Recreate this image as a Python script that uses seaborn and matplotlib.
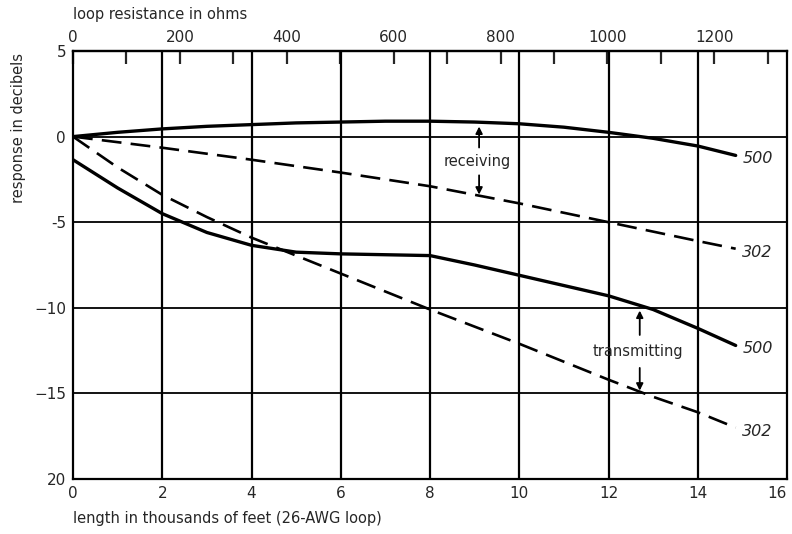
import matplotlib
matplotlib.use("Agg")
import matplotlib.pyplot as plt
import seaborn as sns
import pandas as pd
import numpy as np

# ---- data ----
rx500_x = [0, 1, 2, 3, 4, 5, 6, 7, 8, 9, 10, 11, 12, 13, 14, 14.85]
rx500_y = [0, 0.25, 0.45, 0.6, 0.7, 0.8, 0.85, 0.9, 0.9, 0.85, 0.75, 0.55, 0.25, -0.1, -0.55, -1.1]

rx302_x = [0, 2, 4, 6, 8, 10, 12, 14, 14.85]
rx302_y = [0, -0.65, -1.35, -2.1, -2.9, -3.9, -5.0, -6.1, -6.55]

tx500_x = [0, 1, 2, 3, 4, 5, 6, 7, 8, 9, 10, 11, 12, 13, 14, 14.85]
tx500_y = [-1.35, -3.0, -4.5, -5.6, -6.35, -6.75, -6.85, -6.9, -6.95, -7.5, -8.1, -8.7, -9.3, -10.1, -11.2, -12.2]

tx302_x = [0, 1, 2, 3, 4, 6, 8, 10, 12, 13, 14, 14.85]
tx302_y = [0, -1.8, -3.4, -4.7, -5.9, -8.0, -10.1, -12.1, -14.2, -15.2, -16.1, -17.0]

x_ticks = [0, 2, 4, 6, 8, 10, 12, 14, 16]
y_ticks = [5, 0, -5, -10, -15, -20]
y_tick_labels = ["5", "0", "-5", "\u221210", "\u221215", "20"]
ohm_ticks = [0, 100, 200, 300, 400, 500, 600, 700, 800, 900, 1000, 1100, 1200, 1300]
ohm_labels = ["0", "", "200", "", "400", "", "600", "", "800", "", "1000", "", "1200", ""]
OHMS_PER_KFT = 83.5

df = pd.concat([
    pd.DataFrame({"x": rx500_x, "y": rx500_y, "curve": "rx500"}),
    pd.DataFrame({"x": rx302_x, "y": rx302_y, "curve": "rx302"}),
    pd.DataFrame({"x": tx500_x, "y": tx500_y, "curve": "tx500"}),
    pd.DataFrame({"x": tx302_x, "y": tx302_y, "curve": "tx302"}),
])

sns.set_style("white")
plt.rcParams["font.family"] = ["DejaVu Sans"]

fig = plt.figure(figsize=(7.92, 5.34), dpi=100)
ax = fig.add_axes([73 / 792, 55 / 534, (787 - 73) / 792, (479 - 51) / 534])

# grid
for gx in [2, 4, 6, 8, 10, 12, 14]:
    ax.axvline(gx, color="black", lw=1.6, zorder=1)
for gy in [0, -5, -10, -15]:
    ax.axhline(gy, color="black", lw=1.3, zorder=1)

styles = {"rx500": (2.4, None), "rx302": (1.9, (7.5, 3.5)),
          "tx500": (2.4, None), "tx302": (1.9, (7.5, 3.5))}
for name, (lw, dash) in styles.items():
    sub = df[df["curve"] == name]
    sns.lineplot(data=sub, x="x", y="y", ax=ax, color="black", lw=lw,
                 estimator=None, sort=False, legend=False, zorder=3)
    l = ax.lines[-1]
    if dash is not None:
        l.set_dashes(dash)

ax.set_xlim(0, 16)
ax.set_ylim(-20, 5)
ax.set_xticks(x_ticks)
ax.set_xticklabels([str(t) for t in x_ticks], fontsize=11)
ax.get_xticklabels()[-1].set_horizontalalignment("right")
ax.set_yticks(y_ticks)
ax.set_yticklabels(y_tick_labels, fontsize=11)
ax.tick_params(axis="both", length=0, pad=5)
ax.set_xlabel("")
ax.set_ylabel("")
for s in ax.spines.values():
    s.set_visible(True)
    s.set_color("black")
    s.set_linewidth(1.6)

# top axis: loop resistance
sec = ax.secondary_xaxis("top", functions=(lambda v: v * OHMS_PER_KFT, lambda r: r / OHMS_PER_KFT))
sec.set_xticks(ohm_ticks)
sec.set_xticklabels(ohm_labels, fontsize=11)
sec.tick_params(direction="in", length=9, width=1.6, pad=4)
sec.spines["top"].set_linewidth(1.6)

# curve labels
lab_kw = dict(fontsize=11.5, style="italic", va="center", ha="left")
ax.text(15.0, rx500_y[-1] - 0.2, "500", **lab_kw)
ax.text(15.0, rx302_y[-1] - 0.2, "302", **lab_kw)
ax.text(15.0, tx500_y[-1] - 0.2, "500", **lab_kw)
ax.text(15.0, tx302_y[-1] - 0.2, "302", **lab_kw)

# annotations
def dbl_arrow(x, ytop, ybot, ytext_top, ytext_bot):
    ax.annotate("", xy=(x, ytop), xytext=(x, ytext_top),
                arrowprops=dict(arrowstyle="-|>", color="black", lw=1.3, mutation_scale=10))
    ax.annotate("", xy=(x, ybot), xytext=(x, ytext_bot),
                arrowprops=dict(arrowstyle="-|>", color="black", lw=1.3, mutation_scale=10))

dbl_arrow(9.1, 0.75, -3.55, -0.8, -2.1)
ax.text(9.05, -1.45, "receiving", fontsize=10.5, ha="center", va="center")
dbl_arrow(12.7, -10.0, -15.0, -11.75, -13.35)
ax.text(12.65, -12.55, "transmitting", fontsize=10.5, ha="center", va="center")

fig.text(73 / 792, 1 - 15 / 534, "loop resistance in ohms", fontsize=10.5, ha="left", va="center")
fig.text(73 / 792, 1 - 519 / 534, "length in thousands of feet (26-AWG loop)", fontsize=10.5,
         ha="left", va="center")
fig.text(19 / 792, 1 - 128 / 534, "response in decibels", fontsize=10.5, rotation=90,
         ha="center", va="center")

fig.savefig("out.png", dpi=100)
